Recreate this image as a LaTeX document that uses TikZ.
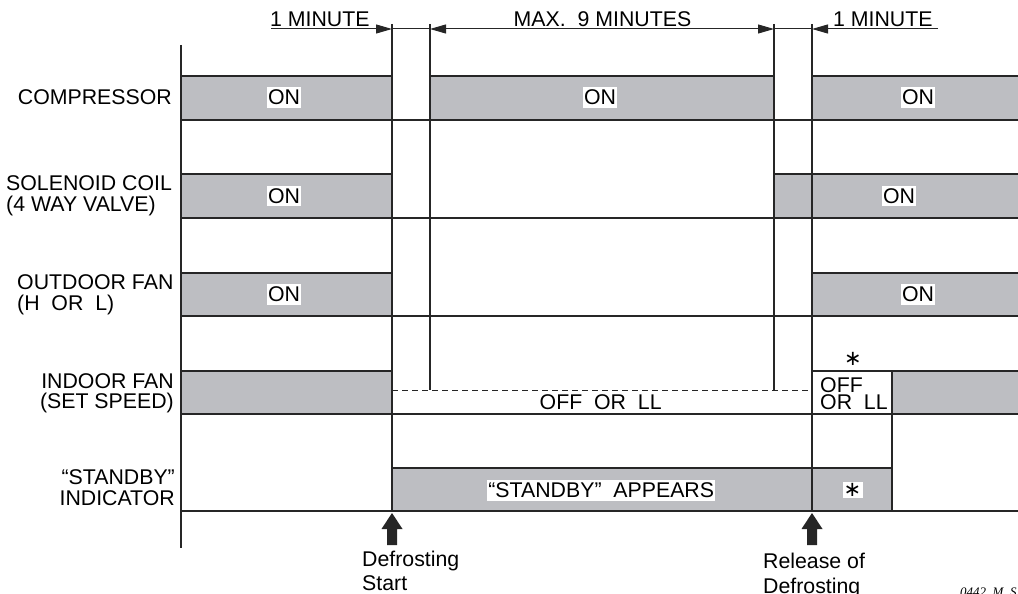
\documentclass[tikz,border=0pt]{standalone}
\usepackage{fontspec}
\setmainfont{Liberation Sans}
\newfontfamily\serifit{Liberation Serif}
\newfontfamily\djv{DejaVu Sans}
\usetikzlibrary{arrows.meta}
\definecolor{band}{RGB}{189,190,194}
\definecolor{ink}{RGB}{38,38,38}
\begin{document}
\begin{tikzpicture}[x=1pt,y=-1pt,
  lbl/.style={font=\fontsize{21.3}{22}\selectfont, inner sep=0pt, text=black},
  onlbl/.style={lbl, fill=white, inner xsep=1.2pt, inner ysep=2.8pt},
  astlbl/.style={font=\djv\fontsize{21}{21}\selectfont, inner sep=1.2pt, text=black},
  bandfill/.style={fill=band},
  edge/.style={draw=ink, line width=1.3pt},
  vline/.style={draw=ink, line width=1.2pt},
  dimline/.style={draw=ink, line width=1pt},
  dimtip/.style={dimline, -{Triangle[length=16pt,width=9pt]}},
  dimtips/.style={dimline, {Triangle[length=16pt,width=9pt]}-{Triangle[length=16pt,width=9pt]}},
  dashline/.style={draw=ink, line width=1pt, dash pattern=on 6pt off 4pt},
  bigarrow/.style={fill=ink}
]
\useasboundingbox (0,0) rectangle (1018,594);

% ---- gray bands (ON levels)
\fill[bandfill] (181,76) rectangle (392,120);
\fill[bandfill] (430,76) rectangle (774,120);
\fill[bandfill] (812,76) rectangle (1022,120);
\fill[bandfill] (181,174) rectangle (392,218);
\fill[bandfill] (774,174) rectangle (1022,218);
\fill[bandfill] (181,273) rectangle (392,316);
\fill[bandfill] (812,273) rectangle (1022,316);
\fill[bandfill] (181,371) rectangle (392,414);
\fill[bandfill] (892,371) rectangle (1022,414);
\fill[bandfill] (392,468) rectangle (892,511);

% band top edges
\draw[edge] (181,76) -- (392,76);
\draw[edge] (430,76) -- (774,76);
\draw[edge] (812,76) -- (1022,76);
\draw[edge] (181,174) -- (392,174);
\draw[edge] (774,174) -- (1022,174);
\draw[edge] (181,273) -- (392,273);
\draw[edge] (812,273) -- (1022,273);
\draw[edge] (181,371) -- (392,371);
\draw[edge] (812,371) -- (1022,371);
\draw[edge] (392,468) -- (892,468);

% row base lines
\foreach \yy in {120,218,316,414,511}
  \draw[edge] (181,\yy) -- (1022,\yy);

% axis and time marks
\draw[vline] (181,45) -- (181,548);
\draw[vline] (392,24) -- (392,511);
\draw[vline] (430,24) -- (430,390);
\draw[vline] (774,24) -- (774,390);
\draw[vline] (812,24) -- (812,511);
\draw[vline] (892,371) -- (892,511);

% indoor fan dashed level
\draw[dashline] (392,390) -- (812,390);

% ---- dimension line
\coordinate (d0) at (271,29);
\coordinate (v1) at (392,29);
\coordinate (v2) at (430,29);
\coordinate (v3) at (774,29);
\coordinate (v4) at (812,29);
\coordinate (d5) at (938,29);
\draw[dimtip] (d0) -- (v1);
\draw[dimline] (v1) -- (v2);
\draw[dimtips] (v2) -- (v3);
\draw[dimline] (v3) -- (v4);
\draw[dimtip] (d5) -- (v4);

\node[lbl, anchor=base west] (m1) at (270,26.5) {1 MINUTE};
\node[lbl, anchor=base west] (m9) at (513.5,26.5) {MAX.\ \ 9 MINUTES};
\node[lbl, anchor=base west] (m2) at (833,26.5) {1 MINUTE};

% ---- row labels
\node[lbl, anchor=base east] (comp) at (172,105) {COMPRESSOR};
\node[lbl, anchor=base west] (sol1) at (6,190) {SOLENOID COIL};
\node[lbl, anchor=base west] (sol2) at (6,211.5) {(4 WAY VALVE)};
\node[lbl, anchor=base west] (out1) at (17,289) {OUTDOOR FAN};
\node[lbl, anchor=base west] (out2) at (17,310.5) {(H\ \ OR\ \ L)};
\node[lbl, anchor=base east] (ind1) at (174,388) {INDOOR FAN};
\node[lbl, anchor=base east] (ind2) at (174,408.5) {(SET SPEED)};
\node[lbl, anchor=base east] (stb1) at (175,484) {“STANDBY”};
\node[lbl, anchor=base east] (stb2) at (175,505.5) {INDICATOR};

% ---- state labels
\node[onlbl] (on1) at (284,97.5) {ON};
\node[onlbl] (on2) at (600,97.5) {ON};
\node[onlbl] (on3) at (918,97.5) {ON};
\node[onlbl] (on4) at (284,196) {ON};
\node[onlbl] (on5) at (899,196) {ON};
\node[onlbl] (on6) at (284,294.5) {ON};
\node[onlbl] (on7) at (918,294.5) {ON};

\node[lbl, anchor=base west] (offll) at (539.5,409) {OFF\ \ OR\ \ LL};
\node[lbl, anchor=base west] (off1) at (820,392) {OFF};
\node[lbl, anchor=base west] (off2) at (820,409.3) {OR\ \ LL};
\node[astlbl] (ast1) at (853,359) {∗};
\node[astlbl, fill=white] (ast2) at (852.5,490) {∗};
\node[onlbl, anchor=base west] (appears) at (487,497.5) {“STANDBY”\ \ APPEARS};

% ---- event arrows
\fill[bigarrow] (392,513) -- (402.5,529) -- (397,529) -- (397,545) -- (387,545) -- (387,529) -- (381.5,529) -- cycle;
\fill[bigarrow] (812,513) -- (822.5,529) -- (817,529) -- (817,545) -- (807,545) -- (807,529) -- (801.5,529) -- cycle;

\node[lbl, anchor=base west] (ds1) at (362,566) {Defrosting};
\node[lbl, anchor=base west] (ds2) at (362,590) {Start};
\node[lbl, anchor=base west] (rl1) at (763,568) {Release of};
\node[lbl, anchor=base west] (rl2) at (763,593) {Defrosting};

\node[font=\serifit\itshape\fontsize{13}{13}\selectfont, inner sep=0pt, anchor=base west] (code) at (960,596) {0442\_M\_S};
\end{tikzpicture}
\end{document}
